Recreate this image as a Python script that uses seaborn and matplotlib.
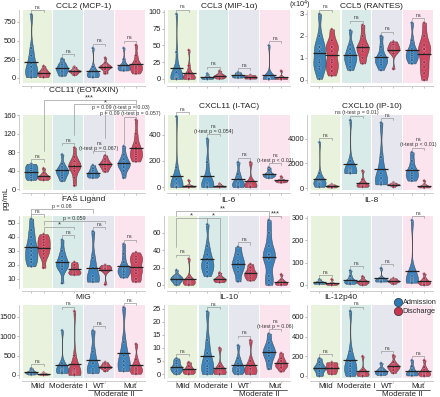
import numpy as np
import matplotlib.pyplot as plt
import pandas as pd
import seaborn as sns
from matplotlib.lines import Line2D

groups = ["Mild", "Moderate I", "WT", "Mut"]
visits = ["Admission", "Discharge"]

# order in every panel: Mild adm, Mild dis, ModI adm, ModI dis, WT adm, WT dis, Mut adm, Mut dis
ccl2 = [[850, 400, 300, 200, 150, 100, 80, 50, 30, 10],
        [160, 120, 100, 80, 70, 60, 50, 30, 20, 10],
        [260, 200, 180, 150, 130, 120, 100, 80, 50, 30],
        [150, 130, 110, 100, 95, 90, 85, 70, 60, 40],
        [400, 150, 100, 80, 60, 50, 40, 30, 20, 10],
        [270, 200, 170, 160, 150, 145, 140, 120, 80, 60],
        [400, 250, 180, 160, 150, 140, 130, 120, 110, 100],
        [440, 300, 220, 180, 160, 150, 130, 100, 80, 60]]
ccl3 = [[97, 40, 10, 5, 4, 3, 2, 1, 0.5, 0],
        [43, 20, 10, 6, 4, 3, 2, 1, 0.5, 0],
        [8, 5, 3, 2, 1.5, 1, 0.5, 0],
        [12, 8, 6, 5, 4, 3, 2, 0.5],
        [10, 8, 6, 5, 4, 3, 2],
        [6, 5, 4, 3, 2, 1, 0.5],
        [50, 5, 2, 1, 0.5, 0.3, 0.2, 0.1, 0],
        [12, 4, 2, 1, 0.5, 0.3, 0.2, 0]]
ccl5 = [[3.0, 2.0, 1.5, 1.5, 1.3, 0.9, 0.8, 0.6, 0.5, 0.05],
        [2.3, 1.8, 1.5, 1.5, 1.3, 0.9, 0.8, 0.6, 0.4, 0.2],
        [2.25, 1.6, 1.4, 1.2, 1.1, 1.0, 0.9, 0.8, 0.6, 0.45],
        [2.5, 2.0, 1.6, 1.5, 1.4, 1.3, 1.0, 0.75],
        [2.0, 1.5, 1.1, 1.0, 0.9, 0.8, 0.7, 0.45],
        [1.75, 1.7, 1.6, 1.5, 1.45, 1.4, 1.35, 1.3, 1.2, 0.5],
        [2.6, 1.8, 1.4, 1.3, 1.2, 1.1, 1.0, 0.9, 0.75],
        [2.6, 2.0, 1.6, 1.4, 1.4, 1.2, 0.8, 0.6, 0.3, 0.0]]
ccl11 = [[55, 50, 45, 40, 35, 30, 25, 20],
         [45, 35, 30, 28, 26, 24, 22, 20],
         [75, 55, 48, 43, 40, 38, 35, 30, 25, 18],
         [90, 70, 60, 55, 52, 50, 45, 40, 25, 8],
         [52, 45, 40, 36, 33, 30, 28, 25],
         [73, 65, 60, 56, 54, 52, 48, 44, 38],
         [93, 75, 65, 58, 55, 52, 48, 40, 25],
         [150, 120, 100, 90, 85, 80, 75, 70, 65, 60]]
cxcl11 = [[540, 150, 60, 30, 20, 10, 5, 3, 2, 0],
          [50, 15, 10, 5, 3, 2, 1, 0],
          [370, 190, 80, 30, 20, 10, 5, 0],
          [25, 15, 10, 6, 4, 2, 0],
          [190, 100, 60, 30, 20, 10, 0],
          [190, 40, 20, 10, 5, 0],
          [150, 130, 110, 100, 95, 90, 85, 80, 70],
          [80, 60, 55, 50, 48, 45, 42, 40, 35]]
cxcl10 = [[3700, 1200, 700, 600, 500, 450, 400, 350, 300, 200, 100],
          [300, 250, 200, 180, 150, 120, 80, 50],
          [5500, 2200, 1600, 1500, 1400, 1350, 1300, 1250, 1200],
          [1400, 700, 400, 300, 250, 200, 150, 100],
          [5300, 2500, 1200, 800, 500, 400, 300],
          [450, 380, 330, 300, 280, 250, 200, 100],
          [2900, 2200, 1600, 1400, 1200, 1000, 800, 600],
          [600, 300, 200, 150, 120, 100, 80, 50]]
fasl = [[53, 45, 40, 35, 32, 30, 27, 24, 22, 19],
        [42, 40, 38, 36, 34, 32, 30, 25, 28, 18],
        [38, 30, 26, 23, 21, 20, 19, 17, 7],
        [22, 20, 18, 16, 15, 14, 13],
        [44, 25, 18, 12, 10, 9, 8],
        [20, 19, 18, 17.5, 17, 16, 6],
        [35, 28, 22, 18, 17, 16, 15, 13, 11],
        [29, 26, 24, 22, 18, 16, 14, 10, 8]]
il6 = [[17, 12, 10, 9, 8, 7, 6, 5, 4, 2, 0],
       [30, 8, 6, 5, 4, 3, 2, 1, 0],
       [70, 45, 35, 30, 25, 22, 20, 15, 10],
       [14, 10, 8, 7, 6, 5, 4, 3],
       [44, 35, 28, 25, 20, 15, 4],
       [24, 20, 16, 14, 12, 10, 8, 5],
       [75, 60, 45, 35, 35, 30, 30, 10, 5, 0],
       [12, 6, 4, 3, 2, 1, 0.5, 0]]
il8 = [[25, 18, 14, 12, 10, 8, 6, 5],
       [25, 10, 7, 5, 4, 3, 2, 0],
       [65, 40, 25, 20, 15, 12, 10, 5],
       [38, 25, 18, 15, 12, 10, 5, 0],
       [75, 30, 25, 22, 20, 18, 15],
       [30, 25, 20, 18, 15, 12, 5],
       [290, 40, 30, 25, 20, 15, 10],
       [50, 30, 20, 15, 12, 8, 5, 0]]
mig = [[170, 120, 90, 70, 60, 50, 30, 10],
       [60, 40, 30, 25, 20, 15, 10, 0],
       [1150, 300, 200, 150, 130, 120, 100, 80, 50],
       [1650, 500, 150, 100, 80, 60, 40, 20, 0],
       [1150, 600, 300, 150, 100, 50],
       [330, 280, 240, 210, 190, 170, 100],
       [1750, 850, 500, 350, 250, 150, 100],
       [800, 400, 250, 180, 150, 100, 60, 30]]
il10 = [[6, 5, 4, 3, 2.5, 2, 1.5, 1, 0],
        [4.5, 3, 2, 1.5, 1, 0.5, 0],
        [24, 13, 8, 5, 3, 2, 1, 0],
        [10, 3, 2, 1, 0.5, 0.2, 0],
        [11, 6, 4, 3, 2, 1.5, 1, 0],
        [13, 5, 3, 2, 1, 0.5, 0],
        [15.5, 12, 10, 9, 8, 7, 5, 2],
        [8, 6, 5, 4, 3.5, 3, 2.5, 1]]
il12 = [[180, 140, 110, 90, 80, 70, 50, 20, 0],
        [140, 130, 110, 90, 80, 60, 40, 20],
        [660, 250, 150, 120, 100, 70, 50, 20, 0],
        [200, 60, 40, 30, 20, 10, 5, 0],
        [130, 80, 60, 50, 40, 30, 20, 10],
        [210, 140, 110, 100, 90, 80, 60, 30],
        [160, 100, 60, 40, 30, 20, 10, 5],
        [160, 90, 60, 40, 30, 20, 10, 0]]

titles = ["CCL2 (MCP-1)", "CCL3 (MIP-1\u03b1)", "CCL5 (RANTES)",
          "CCL11 (EOTAXIN)", "CXCL11 (I-TAC)", "CXCL10 (IP-10)",
          "FAS Ligand", "IL-6", "IL-8",
          "MIG", "IL-10", "IL-12p40"]
panels = [ccl2, ccl3, ccl5, ccl11, cxcl11, cxcl10, fasl, il6, il8, mig, il10, il12]
ylims = [(-67, 910), (-6, 103), (-0.14, 3.18),
         (-2, 160), (-24, 550), (-170, 5900),
         (3.6, 55), (-3.5, 79.6), (-13, 309),
         (-78, 1810), (-1.5, 26.5), (-20, 722)]
yticks = [[0, 250, 500, 750], [0, 25, 50, 75, 100], [0, 1, 2, 3],
          [0, 40, 80, 120, 160], [0, 200, 400], [0, 2000, 4000],
          [10, 20, 30, 40, 50], [0, 20, 40, 60], [0, 100, 200, 300],
          [0, 500, 1000, 1500], [0, 5, 10, 15, 20, 25], [0, 200, 400, 600]]
title_pads = [1.5, 1.5, 1.5, 17, 5, 5, 11, 10, 10, 4, 4, 4]

# (group, text) = test within a group; (violin1, violin2, text, y) = test across groups
notes = [
    [(0, "ns"), (1, "ns"), (2, "ns"), (3, "ns")],
    [(0, "ns"), (1, "ns"), (2, "ns"), (3, "ns")],
    [(0, "ns"), (1, "ns"), (2, "ns"), (3, "ns")],
    [(0, "ns"), (1, "ns"), (2, "ns\n(t-test p = 0.067)"),
     (6, 7, "p = 0.09 (t-test p = 0.057)", 157), (5, 7, "p = 0.09 (t-test p = 0.03)", 170),
     (3, 7, "*", 183), (1, 7, "***", 192)],
    [(0, "ns"), (1, "ns\n(t-test p = 0.054)"), (2, "ns"), (3, "ns\n(t-test p < 0.01)")],
    [(0, "ns"), (1, "ns (t-test p = 0.01)"), (2, "ns"), (3, "ns\n(t-test p < 0.01)")],
    [(0, "ns"), (1, "ns"), (2, "ns"), (3, "ns"),
     (1, 3, "*", 47), (1, 5, "p = 0.059", 51.4), (0, 4, "p = 0.08", 60)],
    [(0, "ns"), (2, "ns"), (3, "***"),
     (2, 3, "*", 77), (0, 2, "*", 77), (0, 6, "**", 85)],
    [(0, "ns"), (1, "ns"), (2, "ns"), (3, "ns")],
    [(0, "ns"), (1, "ns"), (2, "ns"), (3, "ns")],
    [(0, "ns"), (1, "ns"), (2, "ns"), (3, "ns\n(t-test p = 0.06)")],
    [(0, "ns"), (1, "ns"), (2, "ns"), (3, "ns")],
]

pal = {"Admission": "#2a78b6", "Discharge": "#c9354f"}
dot_pal = {"Admission": "#1d5a8e", "Discharge": "#9c1f3a"}
bg = ["#e9f2dc", "#d9ebe8", "#e6e7ee", "#fce4ef"]
vwidth = 0.8

sns.set_style("ticks")
plt.rcParams["font.family"] = ["Liberation Sans", "DejaVu Sans"]

fig = plt.figure(figsize=(4.4, 3.97), dpi=100)
lefts = [0.05, 0.38, 0.705]
bottoms = [0.791, 0.521, 0.275, 0.048]
heights = [0.184, 0.189, 0.181, 0.184]
w = 0.28


def violin_x(k):
    return k // 2 + (k % 2 - 0.5) * vwidth / 2


def long_table(vals):
    rows = []
    for k, v in enumerate(vals):
        for x in v:
            rows.append((groups[k // 2], visits[k % 2], x))
    return pd.DataFrame(rows, columns=["group", "visit", "value"])


def draw_notes(ax, vals, nts, span, txt_h):
    drawn = []
    gap = 0.03 * span
    for nt in nts:
        if len(nt) == 2:
            g, text = nt
            k1, k2 = 2 * g, 2 * g + 1
            y = max(max(vals[k1]), max(vals[k2])) + 0.06 * span
            legs = [y - gap, y - gap]
            cross = False
        else:
            k1, k2, text, y = nt
            legs = []
            for k in (k1, k2):
                below = [t for kk, t in drawn if kk == k and t < y] + [max(vals[k])]
                legs.append(min(max(below) + gap, y - gap))
            cross = True
        x1, x2 = violin_x(k1), violin_x(k2)
        ax.plot([x1, x1, x2, x2], [legs[0], y, y, legs[1]], color="#9a9a9a",
                lw=0.5, clip_on=False, zorder=5)
        star = text.startswith("*")
        ax.text((x1 + x2) / 2, y - (0.02 * span if star else -0.004 * span), text,
                ha="center", va="bottom", fontsize=5.5 if star else 3.8,
                color="#333333", linespacing=1.0, clip_on=False, zorder=6)
        nl = text.count("\n") + 1
        for k in range(k1, k2 + 1):
            if cross and k in (k1, k2):
                drawn.append((k, y))
            else:
                drawn.append((k, y + nl * txt_h))


for i, (name, vals) in enumerate(zip(titles, panels)):
    r, c = divmod(i, 3)
    ax = fig.add_axes([lefts[c], bottoms[r], w, heights[r]])
    df = long_table(vals)
    for g in range(4):
        ax.axvspan(g - 0.48, g + 0.48, color=bg[g], lw=0, zorder=0)

    sns.violinplot(data=df, x="group", y="value", hue="visit", order=groups,
                   hue_order=visits, palette=pal, inner=None, cut=0,
                   density_norm="width", width=vwidth, linewidth=0.4, bw_adjust=0.6,
                   saturation=1, legend=False, alpha=0.9, ax=ax)
    sns.stripplot(data=df, x="group", y="value", hue="visit", order=groups,
                  hue_order=visits, palette=dot_pal, dodge=True, jitter=False,
                  size=1.8, marker="D", linewidth=0.2, edgecolor="#e0e0e0",
                  alpha=0.8, legend=False, ax=ax)

    means = df.groupby(["group", "visit"], sort=False)["value"].mean()
    for k in range(8):
        m = means[(groups[k // 2], visits[k % 2])]
        x = violin_x(k)
        ax.hlines(m, x - 0.22, x + 0.22, color="#222222", lw=0.9, zorder=4)

    ax.set_xlim(-0.5, 3.5)
    ax.set_ylim(ylims[i])
    ax.set_yticks(yticks[i])
    span = ylims[i][1] - ylims[i][0]
    ax_px = heights[r] * 397
    txt_h = 3.8 * 1.389 * 1.05 / ax_px * span
    draw_notes(ax, vals, notes[i], span, txt_h)

    ax.set_xlabel("")
    ax.set_ylabel("")
    ax.set_title(name, fontsize=6, pad=title_pads[i], color="#222222",
                 x=0.25 if name == "IL-12p40" else 0.5)
    ax.set_xticks(range(4))
    ax.set_xticks([violin_x(k) for k in range(8)], minor=True)
    ax.set_xticklabels(groups if r == 3 else [])
    ax.tick_params(axis="x", which="major", length=0, pad=1.5, labelsize=5.8,
                   labelcolor="#222222")
    ax.tick_params(axis="x", which="minor", length=1.5, color="#bbbbbb")
    ax.tick_params(axis="y", length=1.5, pad=1, labelsize=5.4, color="#bbbbbb",
                   labelcolor="#222222")
    sns.despine(ax=ax, offset=2)
    for s in ("left", "bottom"):
        ax.spines[s].set_color("#c4c4c4")
        ax.spines[s].set_linewidth(0.6)

    if name == "CCL5 (RANTES)":
        ax.text(0.0, 1.06, "(x10$^{4}$)", transform=ax.transAxes, ha="right",
                va="center", fontsize=5.2, color="#222222")
    if r == 3:
        tr = ax.get_xaxis_transform()
        ax.plot([1.65, 3.38], [-0.16, -0.16], color="#222222", lw=0.5,
                transform=tr, clip_on=False)
        ax.text(2.5, -0.175, "Moderate II", transform=tr, ha="center", va="top",
                fontsize=5.8, color="#222222")
    if name == "IL-12p40":
        handles = [Line2D([], [], ls="", marker="o", markersize=6,
                          markerfacecolor=pal[v], markeredgecolor="#333333",
                          markeredgewidth=0.5) for v in visits]
        ax.legend(handles, visits, loc="upper right", bbox_to_anchor=(1.05, 1.12),
                  frameon=False, fontsize=5.3, handletextpad=0.1,
                  labelspacing=0.25, borderaxespad=0, handlelength=1.0)

fig.text(0.006, 0.5, "pg/mL", rotation=90, va="center", ha="left", fontsize=6,
         color="#222222")

fig.savefig("out.png", dpi=100)
